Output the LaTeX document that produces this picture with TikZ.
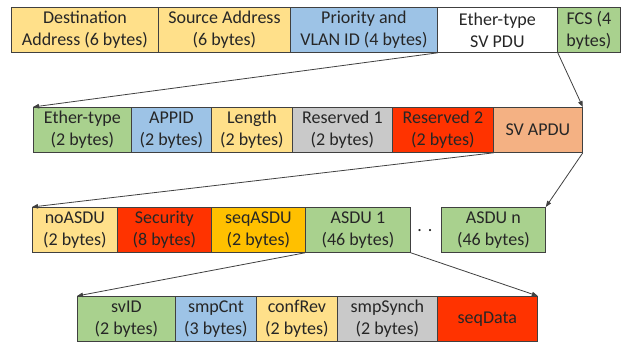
\documentclass[tikz,border=0pt]{standalone}
\usepackage{fontspec}
\setmainfont{Carlito}
\usetikzlibrary{arrows.meta}
\definecolor{cyel}{HTML}{FFE08A}
\definecolor{cblue}{HTML}{9DC3E6}
\definecolor{cgreen}{HTML}{A9D18E}
\definecolor{cgray}{HTML}{C9C9C9}
\definecolor{cred}{HTML}{FF3300}
\definecolor{corange}{HTML}{F4B183}
\definecolor{cgold}{HTML}{FFC000}
\definecolor{cline}{HTML}{404040}
\definecolor{ctext}{HTML}{262626}
\begin{document}
\begin{tikzpicture}[x=1pt,y=-1pt,
  field/.style={draw=cline, line width=0.8pt, inner sep=0pt, minimum height=45pt,
    anchor=north west, align=center, text=ctext,
    font=\fontsize{18}{22}\selectfont},
  conn/.style={draw=cline, line width=0.8pt, -{Triangle[length=6pt,width=4.5pt]}}]
\useasboundingbox (0,0) rectangle (624,344);
% Row 1
\node[field, fill=cyel, minimum width=147pt] (dest) at (11,7) {Destination\\Address (6 bytes)};
\node[field, fill=cyel, minimum width=132pt] (src) at (158,7) {Source Address\\(6 bytes)};
\node[field, fill=cblue, minimum width=147pt] (pri) at (290,7) {Priority and\\VLAN ID (4 bytes)};
\node[field, fill=white, minimum width=120pt] (eth) at (437,7) {Ether-type\\SV PDU};
\node[field, fill=cgreen, minimum width=63pt] (fcs) at (557,7) {FCS (4\\bytes)};
% Row 2
\node[field, fill=cgreen, minimum width=98pt] (et2) at (33,107) {Ether-type\\(2 bytes)};
\node[field, fill=cblue, minimum width=80pt] (appid) at (131,107) {APPID\\(2 bytes)};
\node[field, fill=cyel, minimum width=81pt] (len) at (211,107) {Length\\(2 bytes)};
\node[field, fill=cgray, minimum width=100pt] (res1) at (292,107) {Reserved 1\\(2 bytes)};
\node[field, fill=cred, minimum width=101pt] (res2) at (392,107) {Reserved 2\\(2 bytes)};
\node[field, fill=corange, minimum width=89pt] (apdu) at (493,107) {SV APDU};
% Row 3
\node[field, fill=cyel, minimum width=85pt] (noasdu) at (32,207) {noASDU\\(2 bytes)};
\node[field, fill=cred, minimum width=94pt] (sec) at (117,207) {Security\\(8 bytes)};
\node[field, fill=cgold, minimum width=94pt] (seqasdu) at (211,207) {seqASDU\\(2 bytes)};
\node[field, fill=cgreen, minimum width=105pt] (asdu1) at (305,207) {ASDU 1\\(46 bytes)};
\node[text=ctext, font=\fontsize{18}{22}\selectfont, inner sep=0pt] (dots) at (425,231) {.\,\,.};
\node[field, fill=cgreen, minimum width=104pt] (asdun) at (441,207) {ASDU n\\(46 bytes)};
% Row 4
\node[field, fill=cgreen, minimum width=98pt] (svid) at (77,296) {svID\\(2 bytes)};
\node[field, fill=cblue, minimum width=81pt] (smpcnt) at (175,296) {smpCnt\\(3 bytes)};
\node[field, fill=cyel, minimum width=81pt] (confrev) at (256,296) {confRev\\(2 bytes)};
\node[field, fill=cgray, minimum width=100pt] (smpsynch) at (337,296) {smpSynch\\(2 bytes)};
\node[field, fill=cred, minimum width=100pt] (seqdata) at (437,296) {seqData};
% Connectors
\draw[conn] (pri.south east) -- (et2.north west);
\draw[conn] (eth.south east) -- (apdu.north east);
\draw[conn] (res2.south east) -- (noasdu.north west);
\draw[conn] (apdu.south east) -- (asdun.north east);
\draw[conn] (asdu1.south west) -- (svid.north west);
\draw[conn] (asdu1.south east) -- (seqdata.north east);
\end{tikzpicture}
\end{document}
